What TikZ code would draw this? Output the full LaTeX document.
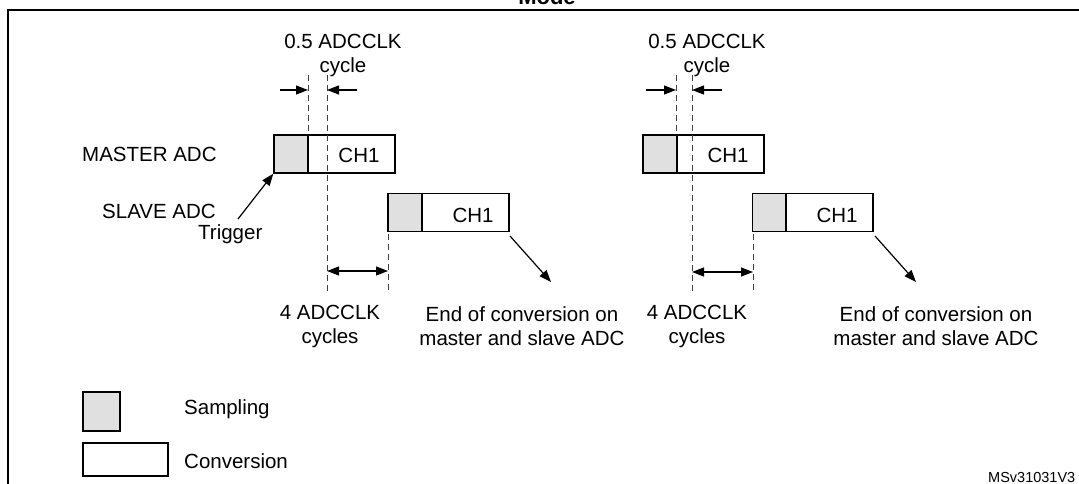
\documentclass[tikz,border=0pt]{standalone}
\usepackage{fontspec}
\setmainfont{Liberation Sans}
\usetikzlibrary{arrows.meta}
\begin{document}
\begin{tikzpicture}[x=1pt,y=-1pt,
  txt/.style={inner sep=0pt,font=\fontsize{20.5}{24}\selectfont},
  samp/.style={draw,line width=1.4pt,fill=black!12,minimum width=34pt,minimum height=38pt,inner sep=0pt},
  conv/.style={draw,line width=1.4pt,fill=white,minimum width=87pt,minimum height=38pt,inner sep=0pt},
  dsh/.style={dashed,dash pattern=on 6pt off 4pt,line width=0.9pt,black!75},
  arr/.style={line width=1.2pt,-{Triangle[length=12pt,width=9pt]}},
  darr/.style={line width=1.2pt,{Triangle[length=12pt,width=9pt]}-{Triangle[length=12pt,width=9pt]}}]
\useasboundingbox (0,0) rectangle (1079,484);
\draw[line width=1.5pt] (1100,10) -- (8,10) -- (8,500);
\node[inner sep=0pt,anchor=base,font=\bfseries\fontsize{22}{24}\selectfont] (mode) at (547,5) {Mode};
% left group
\node[samp] (ms1) at (291,154) {};
\node[conv] (mc1) at (351.5,154) {};
\node[txt,anchor=base] at (359,163) {CH1};
\node[samp] (ss1) at (405,212.5) {};
\node[conv] (sc1) at (465.5,212.5) {};
\node[txt,anchor=base] at (473,222) {CH1};
\coordinate (d1t) at (308,75); \coordinate (d1b) at (308,135);
\coordinate (d2t) at (327,75); \coordinate (d2b) at (327,292);
\coordinate (d3t) at (388,234); \coordinate (d3b) at (388,291);
\draw[dsh] (d1t) -- (d1b); \draw[dsh] (d2t) -- (d2b); \draw[dsh] (d3t) -- (d3b);
\coordinate (a1) at (280,90); \coordinate (a1e) at (308,90);
\coordinate (a2) at (357,90); \coordinate (a2e) at (327,90);
\draw[arr] (a1) -- (a1e); \draw[arr] (a2) -- (a2e);
\coordinate (h1) at (327,271); \coordinate (h2) at (388,271);
\draw[darr] (h1) -- (h2);
\node[txt,align=center] (lbl1) at (343,55) {0.5 ADCCLK\\cycle};
\node[txt,anchor=base west] (mst) at (82,161) {MASTER ADC};
\node[txt,anchor=base west] (slv) at (102,218) {SLAVE ADC};
\node[txt,anchor=base west] (trg) at (198,239) {Trigger};
\coordinate (t0) at (238,219);
\draw[arr] (t0) -- (ms1.south west);
\coordinate (e1) at (510,236); \coordinate (e1e) at (551,282);
\draw[arr] (e1) -- (e1e);
\node[txt,align=center] (c1) at (330,326) {4 ADCCLK\\cycles};
\node[txt,align=center] (eoc1) at (522,326) {End of conversion on\\master and slave ADC};
% right group
\node[samp] (ms2) at (660,154) {};
\node[conv] (mc2) at (720.5,154) {};
\node[txt,anchor=base] at (728,163) {CH1};
\node[samp] (ss2) at (769.5,212.5) {};
\node[conv] (sc2) at (829.5,212.5) {};
\node[txt,anchor=base] at (837,222) {CH1};
\coordinate (r1t) at (676,75); \coordinate (r1b) at (676,135);
\coordinate (r2t) at (692,75); \coordinate (r2b) at (692,292);
\coordinate (r3t) at (753,234); \coordinate (r3b) at (753,291);
\draw[dsh] (r1t) -- (r1b); \draw[dsh] (r2t) -- (r2b); \draw[dsh] (r3t) -- (r3b);
\coordinate (b1) at (646,90); \coordinate (b1e) at (676,90);
\coordinate (b2) at (722,90); \coordinate (b2e) at (692,90);
\draw[arr] (b1) -- (b1e); \draw[arr] (b2) -- (b2e);
\coordinate (g1) at (692,272); \coordinate (g2) at (753,272);
\draw[darr] (g1) -- (g2);
\node[txt,align=center] (lbl2) at (707,55) {0.5 ADCCLK\\cycle};
\coordinate (e2) at (875,236); \coordinate (e2e) at (916,282);
\draw[arr] (e2) -- (e2e);
\node[txt,align=center] (c2) at (697,326) {4 ADCCLK\\cycles};
\node[txt,align=center] (eoc2) at (936,326) {End of conversion on\\master and slave ADC};
% legend
\node[draw,line width=1.4pt,fill=black!12,minimum width=37pt,minimum height=39pt,inner sep=0pt] (ls) at (101.5,411.5) {};
\node[draw,line width=1.4pt,minimum width=85pt,minimum height=33pt,inner sep=0pt] (lc) at (125.5,459.5) {};
\node[txt,anchor=base west] (lst) at (184,414) {Sampling};
\node[txt,anchor=base west] (lct) at (184,468) {Conversion};
\node[inner sep=0pt,anchor=base west,font=\fontsize{14.5}{16}\selectfont] (id) at (988,482) {MSv31031V3};
\end{tikzpicture}
\end{document}
